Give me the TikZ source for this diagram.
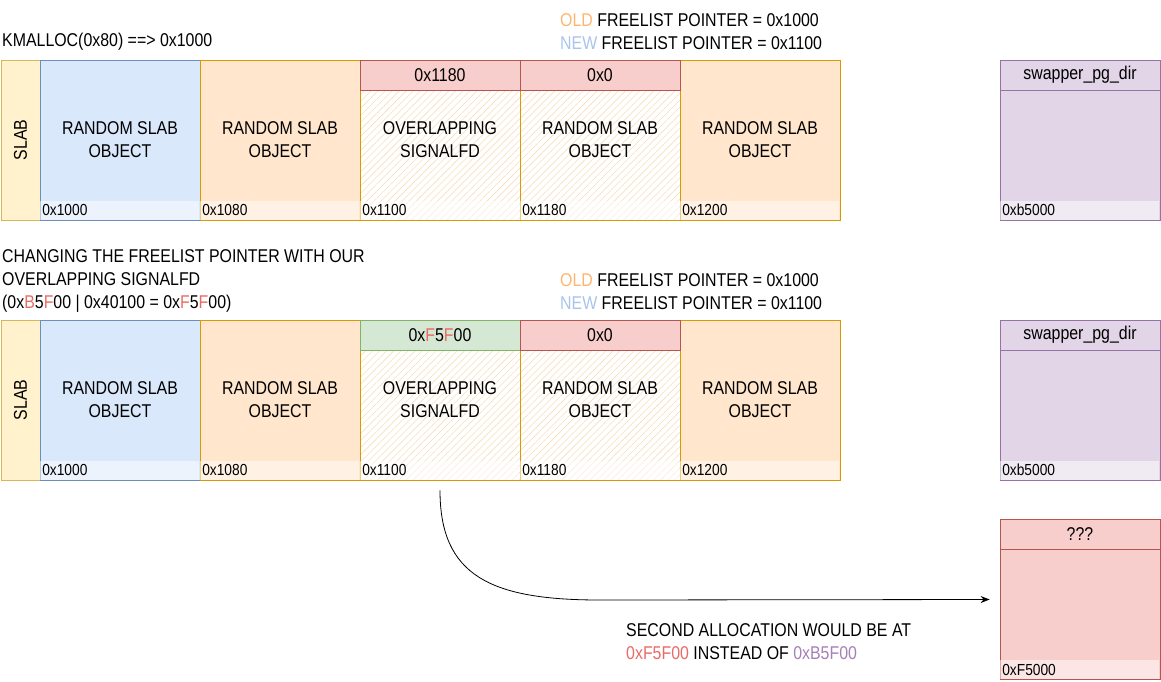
\documentclass[tikz,border=0pt]{standalone}
\usepackage{fontspec}
\setmainfont{Liberation Sans}[FakeStretch=0.86]
\usetikzlibrary{patterns.meta,arrows.meta}
\definecolor{slabfill}{HTML}{FFF2CC}\definecolor{slabline}{HTML}{D6B656}
\definecolor{bluefill}{HTML}{DAE8FC}\definecolor{blueline}{HTML}{6C8EBF}
\definecolor{orgfill}{HTML}{FFE6CC}\definecolor{orgline}{HTML}{D79B00}
\definecolor{redfill}{HTML}{F8CECC}\definecolor{redline}{HTML}{B85450}
\definecolor{grnfill}{HTML}{D5E8D4}\definecolor{grnline}{HTML}{82B366}
\definecolor{purfill}{HTML}{E1D5E7}\definecolor{purline}{HTML}{9673A6}
\definecolor{hatchc}{HTML}{F9DDBA}
\definecolor{oldc}{HTML}{FFB570}\definecolor{newc}{HTML}{A9C4EB}
\definecolor{redtxt}{HTML}{EA6B66}\definecolor{purtxt}{HTML}{A680B8}
\newcommand\bigtxt{\fontsize{18.5}{23}\selectfont}
\newcommand\smalltxt{\fontsize{16}{17}\selectfont}
\newcommand\rd[1]{\textcolor{redtxt}{#1}}
\begin{document}
\begin{tikzpicture}[x=1pt, y=-1pt,
    obj/.style={draw, line width=0.8pt, minimum width=160pt, minimum height=160pt, inner sep=0pt, align=center, font=\bigtxt},
    blueobj/.style={obj, fill=bluefill, draw=blueline},
    orgobj/.style={obj, fill=orgfill, draw=orgline},
    hatchobj/.style={obj, draw=orgline, pattern={Lines[angle=45, distance=5pt, line width=0.6pt]}, pattern color=hatchc},
    purobj/.style={obj, fill=purfill, draw=purline},
    slabobj/.style={obj, rotate=90, minimum height=39pt, fill=slabfill, draw=slabline},
    hdr/.style={draw, line width=0.8pt, anchor=north, minimum width=160pt, minimum height=30pt, inner sep=0pt, font=\bigtxt},
    addr/.style={anchor=south west, fill=white, fill opacity=0.5, text opacity=1, minimum height=19pt, text width=155pt, inner sep=2pt, align=left, font=\smalltxt},
    txt/.style={anchor=west, align=left, inner sep=2pt, font=\bigtxt}]
\useasboundingbox (0,0) rectangle (1161,681);

\node[txt] (kmalloc) at (0,42) {KMALLOC(0x80) ==> 0x1000};
\node[txt] (ptrA) at (558,31.5) {\textcolor{oldc}{OLD} FREELIST POINTER = 0x1000\\\textcolor{newc}{NEW} FREELIST POINTER = 0x1100};

\node[slabobj] (slabA) at (20.5,140) {SLAB};
\node[blueobj] (objA1) at (120,140) {RANDOM SLAB\\OBJECT};
\node[orgobj] (objA2) at (280,140) {RANDOM SLAB\\OBJECT};
\node[hatchobj] (sigA) at (440,140) {OVERLAPPING\\SIGNALFD};
\node[hatchobj] (objA3) at (600,140) {RANDOM SLAB\\OBJECT};
\node[orgobj] (objA4) at (760,140) {RANDOM SLAB\\OBJECT};
\node[hdr, fill=redfill, draw=redline] (hdrA1) at (sigA.north) {0x1180};
\node[hdr, fill=redfill, draw=redline] (hdrA2) at (objA3.north) {0x0};
\node[purobj] (swapA) at (1080,140) {};
\node[hdr, fill=purfill, draw=purline] (swapAh) at (swapA.north) {swapper\_pg\_dir};

\node[addr] (adA1) at ([xshift=0.5pt,yshift=0.5pt]objA1.south west) {0x1000};
\node[addr] (adA2) at ([xshift=0.5pt,yshift=0.5pt]objA2.south west) {0x1080};
\node[addr] (adA3) at ([xshift=0.5pt,yshift=0.5pt]sigA.south west) {0x1100};
\node[addr] (adA4) at ([xshift=0.5pt,yshift=0.5pt]objA3.south west) {0x1180};
\node[addr] (adA5) at ([xshift=0.5pt,yshift=0.5pt]objA4.south west) {0x1200};
\node[addr] (adA6) at ([xshift=0.5pt,yshift=0.5pt]swapA.south west) {0xb5000};

\node[txt] (change) at (0,281) {CHANGING THE FREELIST POINTER WITH OUR\\OVERLAPPING SIGNALFD\\(0x\rd{B}5\rd{F}00 | 0x40100 = 0x\rd{F}5\rd{F}00)};
\node[txt] (ptrB) at (558,291.5) {\textcolor{oldc}{OLD} FREELIST POINTER = 0x1000\\\textcolor{newc}{NEW} FREELIST POINTER = 0x1100};

\node[slabobj] (slabB) at (20.5,400) {SLAB};
\node[blueobj] (objB1) at (120,400) {RANDOM SLAB\\OBJECT};
\node[orgobj] (objB2) at (280,400) {RANDOM SLAB\\OBJECT};
\node[hatchobj] (sigB) at (440,400) {OVERLAPPING\\SIGNALFD};
\node[hatchobj] (objB3) at (600,400) {RANDOM SLAB\\OBJECT};
\node[orgobj] (objB4) at (760,400) {RANDOM SLAB\\OBJECT};
\node[hdr, fill=grnfill, draw=grnline] (hdrB1) at (sigB.north) {0x\rd{F}5\rd{F}00};
\node[hdr, fill=redfill, draw=redline] (hdrB2) at (objB3.north) {0x0};
\node[purobj] (swapB) at (1080,400) {};
\node[hdr, fill=purfill, draw=purline] (swapBh) at (swapB.north) {swapper\_pg\_dir};

\node[addr] (adB1) at ([xshift=0.5pt,yshift=0.5pt]objB1.south west) {0x1000};
\node[addr] (adB2) at ([xshift=0.5pt,yshift=0.5pt]objB2.south west) {0x1080};
\node[addr] (adB3) at ([xshift=0.5pt,yshift=0.5pt]sigB.south west) {0x1100};
\node[addr] (adB4) at ([xshift=0.5pt,yshift=0.5pt]objB3.south west) {0x1180};
\node[addr] (adB5) at ([xshift=0.5pt,yshift=0.5pt]objB4.south west) {0x1200};
\node[addr] (adB6) at ([xshift=0.5pt,yshift=0.5pt]swapB.south west) {0xb5000};

\node[obj, fill=redfill, draw=redline] (qbox) at (1080,599.5) {};
\node[hdr, fill=redfill, draw=redline] (qboxh) at (qbox.north) {???};
\node[addr] (adC) at ([xshift=0.5pt,yshift=0.5pt]qbox.south west) {0xF5000};

\coordinate (bend) at (600,600);
\draw[-{Stealth[length=9pt,width=7pt]}, line width=0.8pt] ([yshift=-10pt]sigB.south) .. controls +(0,85) and +(-110,0) .. (bend) -- ([xshift=-10pt]qbox.west);
\node[txt] (second) at (624,642) {SECOND ALLOCATION WOULD BE AT\\\rd{0xF5F00} INSTEAD OF \textcolor{purtxt}{0xB5F00}};
\end{tikzpicture}
\end{document}
